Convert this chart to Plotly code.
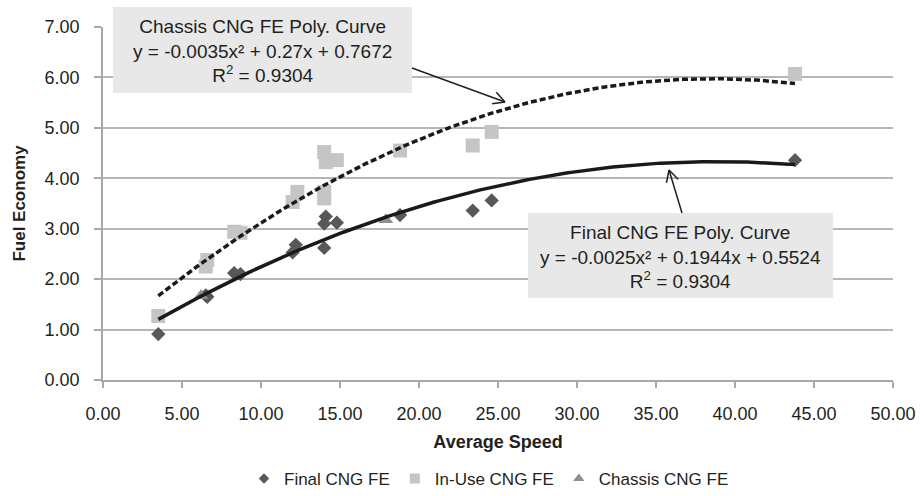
import math
import numpy as np
import plotly.graph_objects as go

# ---- data -------------------------------------------------------------
final_speed = [3.5, 6.5, 6.6, 8.3, 8.7, 12.0, 12.2, 14.0, 14.0, 14.1, 14.8, 18.8, 23.4, 24.6, 43.8]
final_fe = [0.91, 1.68, 1.65, 2.12, 2.10, 2.53, 2.68, 2.62, 3.10, 3.24, 3.12, 3.27, 3.36, 3.56, 4.36]

inuse_speed = [3.5, 6.5, 6.6, 8.3, 8.7, 12.0, 12.3, 14.0, 14.0, 14.0, 14.1, 14.8, 18.8, 23.4, 24.6, 43.8]
inuse_fe = [1.27, 2.25, 2.38, 2.94, 2.92, 3.53, 3.73, 3.60, 3.73, 4.52, 4.32, 4.36, 4.55, 4.65, 4.92, 6.07]

chassis_speed = [6.2, 17.9]
chassis_fe = [1.67, 3.18]

# quadratic trend coefficients (a, b, c) for y = a x^2 + b x + c
chassis_poly = [-0.0035, 0.27, 0.7672]
final_poly = [-0.0025, 0.1944, 0.5524]
r_squared = 0.9304

x_ticks = [0, 5, 10, 15, 20, 25, 30, 35, 40, 45, 50]
y_ticks = [0, 1, 2, 3, 4, 5, 6, 7]

# ---- layout geometry (pixels) -----------------------------------------
W, H = 924, 496
ML, MR, MT, MB = 103, 31, 27, 116
PW, PH = W - ML - MR, H - MT - MB


def px(xp, yp):
    """pixel position -> paper coordinates"""
    return (xp - ML) / PW, (H - MB - yp) / PH


TEXT = "#231f20"
FONT = "Liberation Sans, Arial, Helvetica, sans-serif"


def poly_curve(coefs, xs):
    a, b, c = coefs
    xx = np.linspace(min(xs), max(xs), 200)
    return xx, a * xx ** 2 + b * xx + c


fig = go.Figure()

# data markers
fig.add_trace(go.Scatter(x=final_speed, y=final_fe, mode="markers", name="Final CNG FE",
                         marker=dict(symbol="diamond", size=11, color="#58585a"), showlegend=False))
fig.add_trace(go.Scatter(x=inuse_speed, y=inuse_fe, mode="markers", name="In-Use CNG FE",
                         marker=dict(symbol="square", size=14, color="#c4c5c7"), showlegend=False))
fig.add_trace(go.Scatter(x=chassis_speed, y=chassis_fe, mode="markers", name="Chassis CNG FE",
                         marker=dict(symbol="triangle-up", size=13, color="#8e8f91"), showlegend=False))

# polynomial trend curves
cx, cy = poly_curve(chassis_poly, inuse_speed)
fig.add_trace(go.Scatter(x=cx, y=cy, mode="lines", showlegend=False, hoverinfo="skip",
                         line=dict(color="#1a1a1a", width=3.5, dash="6px,3px")))
fx, fy = poly_curve(final_poly, final_speed)
fig.add_trace(go.Scatter(x=fx, y=fy, mode="lines", showlegend=False, hoverinfo="skip",
                         line=dict(color="#1a1a1a", width=3.5)))

# legend entries
fig.add_trace(go.Scatter(x=[None], y=[None], mode="markers", name="Final CNG FE",
                         marker=dict(symbol="diamond", size=8, color="#58585a")))
fig.add_trace(go.Scatter(x=[None], y=[None], mode="markers", name="In-Use CNG FE",
                         marker=dict(symbol="square", size=10, color="#c4c5c7")))
fig.add_trace(go.Scatter(x=[None], y=[None], mode="markers", name="Chassis CNG FE",
                         marker=dict(symbol="triangle-up", size=10, color="#8e8f91")))


def fmt_eq(coefs):
    a, b, c = coefs
    return f"y = {a:g}x\u00b2 + {b:g}x + {c:g}"


shapes = []
annotations = []


def callout(x0, y0, x1, y1, title, coefs, tail, tip):
    bx0, by0 = px(x0, y1)
    bx1, by1 = px(x1, y0)
    shapes.append(dict(type="rect", xref="paper", yref="paper", x0=bx0, x1=bx1, y0=by0, y1=by1,
                       fillcolor="#e8e8e9", line=dict(width=0), layer="above"))
    cxp, cyp = px((x0 + x1) / 2, (y0 + y1) / 2 + 1)
    annotations.append(dict(xref="paper", yref="paper", x=cxp, y=cyp, xanchor="center", yanchor="middle",
                            showarrow=False,
                            text=f"{title}<br>{fmt_eq(coefs)}<br>R<sup>2</sup> = {r_squared}",
                            font=dict(size=19, color=TEXT, family=FONT), align="center"))
    # arrow shaft
    t0, t1 = px(*tail)
    h0, h1 = px(*tip)
    shapes.append(dict(type="line", xref="paper", yref="paper", x0=t0, y0=t1, x1=h0, y1=h1,
                       line=dict(color=TEXT, width=1.5), layer="above"))
    # open arrowhead
    ang = math.atan2(tail[1] - tip[1], tail[0] - tip[0])
    for s in (-1, 1):
        a = ang + s * math.radians(28)
        ex, ey = px(tip[0] + 13 * math.cos(a), tip[1] + 13 * math.sin(a))
        shapes.append(dict(type="line", xref="paper", yref="paper", x0=h0, y0=h1, x1=ex, y1=ey,
                           line=dict(color=TEXT, width=1.5), layer="above"))


callout(113, 7, 412, 93, "Chassis CNG FE Poly. Curve", chassis_poly, (412, 68), (505, 102))
callout(528, 213, 833, 298, "Final CNG FE Poly. Curve", final_poly, (682, 213), (669, 170))

axis_common = dict(showline=True, linecolor="#a7a8aa", linewidth=1.5, ticks="outside",
                   tickcolor="#a7a8aa", tickwidth=1.5, zeroline=False, automargin=False,
                   tickfont=dict(size=18, color=TEXT, family=FONT), tickformat=".2f")

legend_x, legend_y = px(489, 479)

fig.update_layout(
    width=W, height=H,
    margin=dict(l=ML, r=MR, t=MT, b=MB, autoexpand=False),
    paper_bgcolor="white", plot_bgcolor="white",
    font=dict(family=FONT, color=TEXT),
    xaxis=dict(range=[0, 50], tickvals=x_ticks, showgrid=False, ticklen=6, ticklabelstandoff=11,
               title=dict(text="<b>Average Speed</b>", font=dict(size=18, color=TEXT), standoff=12),
               **axis_common),
    yaxis=dict(range=[0, 7], tickvals=y_ticks, showgrid=True, gridcolor="#b5b6b8", gridwidth=1.5,
               ticklen=7, ticklabelstandoff=11,
               title=dict(text="<b>Fuel Economy</b>", font=dict(size=17, color=TEXT), standoff=15),
               **axis_common),
    legend=dict(orientation="h", x=legend_x, xanchor="center", y=legend_y, yanchor="middle",
                font=dict(size=17, color=TEXT, family=FONT), itemclick=False),
    shapes=shapes,
    annotations=annotations,
)

fig.write_html("out.html")
